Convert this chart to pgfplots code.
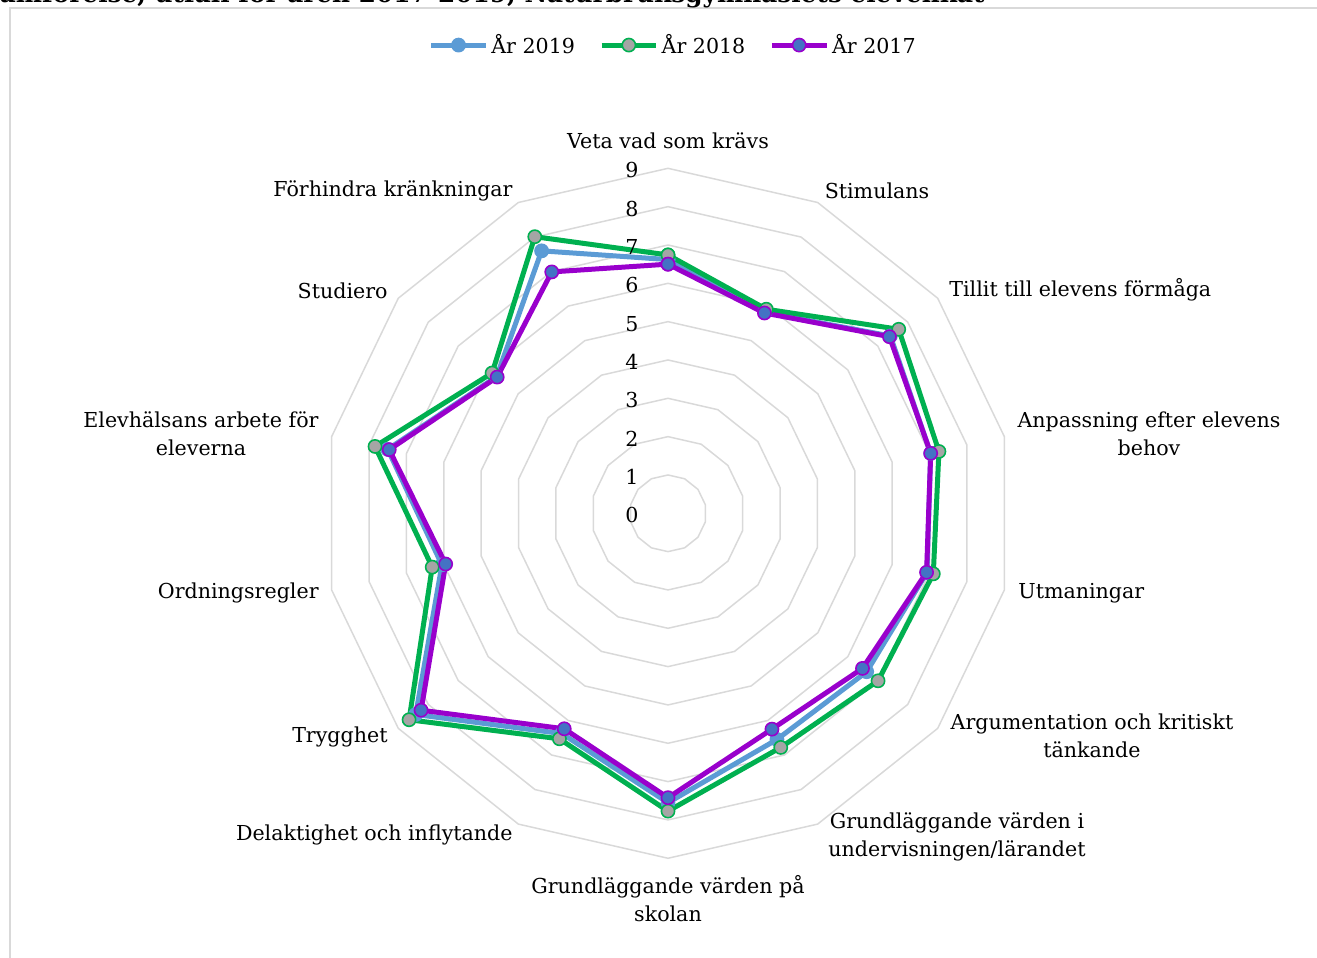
\documentclass[border=0pt]{standalone}
\usepackage{fontspec}
\setmainfont{DejaVu Serif}
\usepackage{pgfplots}
\pgfplotsset{compat=1.18}
\usepackage{pgfplotstable}

\definecolor{c19}{HTML}{5B9BD5}
\definecolor{c18}{HTML}{00B050}
\definecolor{c17}{HTML}{9900CC}
\definecolor{m18}{HTML}{A5A5A5}
\definecolor{m17}{HTML}{4472C4}
\definecolor{ring}{HTML}{D9D9D9}

% k = category index (0 = top, clockwise); last row closes the polygon
\pgfplotstableread{
k  v19   v18   v17
0  6.62  6.74  6.50
1  5.82  5.91  5.80
2  7.42  7.70  7.39
3  7.03  7.25  7.03
4  6.93  7.10  6.92
5  6.63  7.01  6.49
6  6.55  6.78  6.25
7  7.55  7.77  7.42
8  6.38  6.53  6.24
9  8.42  8.64  8.24
10 6.05  6.31  5.95
11 7.50  7.84  7.46
12 5.72  5.87  5.70
13 7.60  8.01  6.99
14 6.62  6.74  6.50
}\data

\begin{document}
\begin{tikzpicture}
\begin{axis}[
  at={(0,0)}, anchor=origin,
  x=19.165pt, y=19.165pt,
  xmin=-17.43, xmax=16.93, ymin=-11.60, ymax=13.39,
  hide axis, clip=false,
  legend columns=3,
  legend style={at={(0.512,0.953)}, anchor=center, draw=none, fill=none,
    font=\fontsize{10.3}{12}\selectfont,
    /tikz/every even column/.append style={column sep=10pt},
    /tikz/every odd column/.append style={column sep=-0.5pt}},
  legend image code/.code={\draw[mark repeat=2,mark phase=2,#1] plot coordinates {(0cm,0cm) (0.48cm,0cm) (0.96cm,0cm)};},
]
\pgfplotsinvokeforeach{1,...,9}{
  \addplot[ring, line width=0.75pt, data cs=polar, forget plot, mark=none]
    table[x expr={90-\thisrow{k}*360/14}, y expr=#1] {\data};
}
\addplot[c19, line width=2.5pt, line join=round, data cs=polar, mark=*, mark size=3.3pt,
  mark options={fill=c19, draw=c19, line width=0.8pt}]
  table[x expr={90-\thisrow{k}*360/14}, y=v19] {\data};
\addlegendentry{År 2019}
\addplot[c18, line width=2.5pt, line join=round, data cs=polar, mark=*, mark size=3.3pt,
  mark options={fill=m18, draw=c18, line width=0.8pt}]
  table[x expr={90-\thisrow{k}*360/14}, y=v18] {\data};
\addlegendentry{År 2018}
\addplot[c17, line width=2.5pt, line join=round, data cs=polar, mark=*, mark size=3.3pt,
  mark options={fill=m17, draw=c17, line width=0.8pt}]
  table[x expr={90-\thisrow{k}*360/14}, y=v17] {\data};
\addlegendentry{År 2017}
\pgfplotsinvokeforeach{0,...,9}{
  \node[font=\fontsize{10.3}{12}\selectfont, inner sep=0pt] at (axis cs:-0.94,{#1-0.052}) {#1};
}
\end{axis}
\begin{scope}[x=0.5pt, y=-0.5pt, shift={(-668,-513.3)}]
  \draw[ring, line width=1pt] (10,1000) -- (10,8) -- (1400,8);
  \node[anchor=base east, inner sep=0pt, font=\bfseries\fontsize{12.4}{14}\selectfont] at (985,3)
    {Jämförelse, utfall för åren 2017-2019, Naturbruksgymnasiets elevenkät};
  \begin{scope}[every node/.style={font=\fontsize{10.3}{14}\selectfont, inner sep=0pt, align=center}]
    \node at (668,141) {Veta vad som krävs};
    \node at (877,191) {Stimulans};
    \node[anchor=west] at (949,290) {Tillit till elevens förmåga};
    \node at (1149,434) {Anpassning efter elevens\\behov};
    \node[anchor=west] at (1018,593) {Utmaningar};
    \node at (1092,736) {Argumentation och kritiskt\\tänkande};
    \node at (957,837) {Grundläggande värden i\\undervisningen/lärandet};
    \node at (668,899) {Grundläggande värden på\\skolan};
    \node[anchor=east] at (513,835) {Delaktighet och inflytande};
    \node[anchor=east] at (388,737) {Trygghet};
    \node[anchor=east] at (319,593) {Ordningsregler};
    \node at (201,434) {Elevhälsans arbete för\\eleverna};
    \node[anchor=east] at (388,291) {Studiero};
    \node[anchor=east] at (513,191) {Förhindra kränkningar};
  \end{scope}
  \pgfresetboundingbox
  \path[use as bounding box] (0,0) rectangle (1317,958);
\end{scope}
\end{tikzpicture}
\end{document}
